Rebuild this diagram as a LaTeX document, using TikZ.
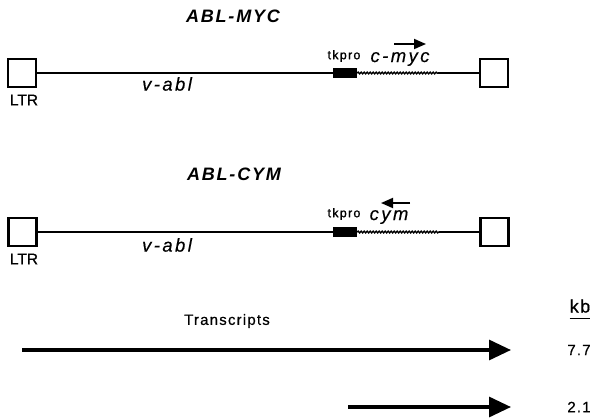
\documentclass[tikz,border=0pt]{standalone}
\usepackage{fontspec}
\setmainfont{Liberation Sans}
\newfontfamily\trkB[LetterSpace=8,FakeBold=0.6]{Liberation Sans}
\newfontfamily\trkT[LetterSpace=10]{Liberation Sans}
\newfontfamily\trkC[LetterSpace=13,FakeBold=0.3]{Liberation Sans}
\newfontfamily\trkS[LetterSpace=10,FakeBold=1.2]{Liberation Sans}
\newfontfamily\trkL[FakeBold=0.8]{Liberation Sans}
\usetikzlibrary{arrows.meta,decorations.pathmorphing}
\begin{document}
\begin{tikzpicture}[x=1pt,y=-1pt,
  ltrbox/.style={draw,line width=2.4pt,minimum width=28pt,minimum height=28pt,inner sep=0pt},
  tkbox/.style={fill=black,minimum width=24pt,minimum height=9.5pt,inner sep=0pt},
  seq/.style={line width=1.2pt},
  wavy/.style={line width=1.5pt,decorate,decoration={snake,amplitude=0.8pt,segment length=3pt}},
  dirarrow/.style={line width=1.8pt,-{Triangle[length=12pt,width=10pt]}},
  transarrow/.style={line width=3.2pt,-{Triangle[length=22pt,width=20pt]}},
  title/.style={font=\trkT\bfseries\itshape\fontsize{18}{18}\selectfont},
  gene/.style={font=\trkC\itshape\fontsize{18.5}{18}\selectfont},
  small/.style={font=\trkS\fontsize{12.5}{12}\selectfont},
  ltrlab/.style={font=\trkL\fontsize{15.5}{15}\selectfont},
  label/.style={font=\trkB\fontsize{15}{15}\selectfont},
]
\useasboundingbox (0,0) rectangle (595,418);

% ---------- ABL-MYC ----------
\node[title] (t1) at (233,16) {ABL-MYC};
\node[ltrbox] (l1) at (22,73) {};
\node[ltrbox] (r1) at (494,73) {};
\node[tkbox] (k1) at (345,73) {};
\coordinate (w1) at (438,73);
\draw[seq] (l1.east) -- (k1.west);
\draw[wavy] (k1.east) -- (w1);
\draw[seq] (w1) -- (r1.west);
\node[ltrlab] (lt1) at (24,100) {LTR};
\node[gene] (va1) at (167,84) {v-abl};
\node[small] (tp1) at (344,56) {tkpro};
\node[gene] (cm1) at (400,59) {c-myc};
\coordinate (a1s) at (394,44);
\coordinate (a1e) at (426,44);
\draw[dirarrow] (a1s) -- (a1e);

% ---------- ABL-CYM ----------
\node[title] (t2) at (234,174) {ABL-CYM};
\node[ltrbox] (l2) at (22.5,232) {};
\node[ltrbox] (r2) at (494.5,232) {};
\node[tkbox] (k2) at (345,232) {};
\coordinate (w2) at (439,232);
\draw[seq] (l2.east) -- (k2.west);
\draw[wavy] (k2.east) -- (w2);
\draw[seq] (w2) -- (r2.west);
\node[ltrlab] (lt2) at (24,259) {LTR};
\node[gene] (va2) at (167,245) {v-abl};
\node[small] (tp2) at (344,214) {tkpro};
\node[gene] (cy2) at (389,217) {cym};
\coordinate (a2s) at (410,203);
\coordinate (a2e) at (381,203);
\draw[dirarrow] (a2s) -- (a2e);

% ---------- Transcripts ----------
\node[label] (tr) at (227,321) {Transcripts};
\node[font=\trkB\fontsize{18}{18}\selectfont,inner sep=0pt,text depth=0pt] (kb) at (580,306) {kb};
\draw[line width=1.2pt] ([yshift=-6pt]kb.south west) -- ([yshift=-6pt]kb.south east);
\coordinate (s1) at (22,350);
\coordinate (e1) at (511,350);
\coordinate (s2) at (348,407);
\coordinate (e2) at (511,407);
\draw[transarrow] (s1) -- (e1);
\draw[transarrow] (s2) -- (e2);
\node[label] (n1) at (579,350) {7.7};
\node[label] (n2) at (579,407) {2.1};
\end{tikzpicture}
\end{document}
